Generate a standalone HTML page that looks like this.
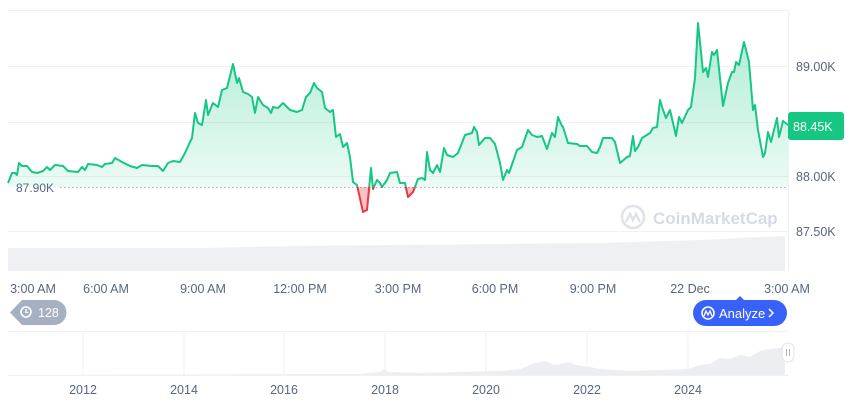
<!DOCTYPE html>
<html><head><meta charset="utf-8"><style>
body{margin:0;background:#fff;width:860px;height:401px;overflow:hidden;font-family:"Liberation Sans",sans-serif}
svg text{font-family:"Liberation Sans",sans-serif}
</style></head><body>
<svg width="860" height="401" viewBox="0 0 860 401" xmlns="http://www.w3.org/2000/svg">
<defs>
<linearGradient id="g" x1="0" y1="0" x2="0" y2="1"><stop offset="0" stop-color="#16c784" stop-opacity="0.35"/><stop offset="1" stop-color="#16c784" stop-opacity="0.04"/></linearGradient>
<clipPath id="up"><rect x="0" y="0" width="860" height="187"/></clipPath>
<clipPath id="dn"><rect x="0" y="187" width="860" height="100"/></clipPath>
</defs>
<g stroke="#eff2f5" stroke-width="1">
<line x1="8" y1="10.5" x2="788" y2="10.5"/>
<line x1="8" y1="66.5" x2="788" y2="66.5"/>
<line x1="8" y1="122.5" x2="788" y2="122.5"/>
<line x1="8" y1="176.5" x2="788" y2="176.5"/>
<line x1="8" y1="231.5" x2="788" y2="231.5"/>
<line x1="788.5" y1="10" x2="788.5" y2="271"/>
</g>
<polygon points="8,248 200,248 300,246 400,245 500,244 600,243 700,240 785,236 785,271 8,271" fill="#eef0f4"/>
<g opacity="0.35" fill="none" stroke="#a6b0c3" stroke-width="2.5"><circle cx="633" cy="217" r="11"/><path d="M626,222 l4,-8 l3,6 l3,-6 l4,8"/></g>
<text x="653" y="224" font-size="17" font-weight="bold" fill="#a6b0c3" opacity="0.45">CoinMarketCap</text>
<line x1="60" y1="187.5" x2="788" y2="187.5" stroke="#a6b0c3" stroke-width="1" stroke-dasharray="1.5,2.5"/>
<rect x="10" y="180" width="50" height="15" fill="#fff"/>
<text x="16" y="192" font-size="12" fill="#58667e">87.90K</text>
<g clip-path="url(#up)">
<polygon fill="url(#g)" points="8,187 8,183 12,173 15,173 17,175 19,163 22,166 27,166 32,172 37,173 43,171 47,167 50,170 55,165 63,166 68,171 78,172 82,167 85,170 88,164 97,165 102,167 105,164 112,163 115,158 122,162 130,166 137,168 142,165 152,166 158,166 163,171 168,163 173,161 180,162 185,153 190,142 192,138 195,113 198,123 202,125 206,100 208,115 213,103 218,107 222,90 227,88 233,64 237,83 239,78 243,92 248,94 252,97 255,113 258,97 263,105 268,108 271,113 273,107 278,108 283,103 290,110 297,112 302,110 306,97 310,93 314,83 317,88 322,92 325,108 330,112 333,110 336,137 340,134 343,147 347,143 350,157 353,182 357,185 363,212 367,210 371,168 373,189 377,180 380,183 382,187 387,180 390,173 397,172 400,183 405,183 408,197 413,192 418,179 422,178 425,180 427,152 430,170 433,173 437,165 440,172 444,148 447,155 453,157 458,153 465,135 472,133 474,127 477,132 479,145 485,138 490,138 495,144 500,163 503,180 507,170 509,173 517,150 522,147 528,130 532,135 537,137 542,136 547,149 552,133 555,137 558,117 562,126 563,127 568,143 577,144 580,146 587,146 592,152 597,153 600,147 603,138 612,138 615,142 620,163 627,157 630,156 633,136 635,151 638,147 642,138 650,133 653,128 657,127 660,100 663,110 666,118 670,110 676,136 679,117 682,123 688,110 691,107 695,78 698,23 703,72 706,68 708,77 712,52 714,55 717,50 723,106 728,83 732,72 734,72 736,62 739,65 744,42 749,62 753,110 755,105 758,130 763,157 765,153 768,132 771,142 777,118 779,137 783,121 788,125 788,187"/>
</g>
<g clip-path="url(#dn)">
<polygon fill="#ea3943" fill-opacity="0.3" points="353,187 357,185 363,212 367,210 371,187"/>
<polygon fill="#ea3943" fill-opacity="0.3" points="404,187 408,197 413,192 416,187"/>
</g>
<polyline clip-path="url(#up)" fill="none" stroke="#16c784" stroke-width="2" stroke-linejoin="round" points="8,183 12,173 15,173 17,175 19,163 22,166 27,166 32,172 37,173 43,171 47,167 50,170 55,165 63,166 68,171 78,172 82,167 85,170 88,164 97,165 102,167 105,164 112,163 115,158 122,162 130,166 137,168 142,165 152,166 158,166 163,171 168,163 173,161 180,162 185,153 190,142 192,138 195,113 198,123 202,125 206,100 208,115 213,103 218,107 222,90 227,88 233,64 237,83 239,78 243,92 248,94 252,97 255,113 258,97 263,105 268,108 271,113 273,107 278,108 283,103 290,110 297,112 302,110 306,97 310,93 314,83 317,88 322,92 325,108 330,112 333,110 336,137 340,134 343,147 347,143 350,157 353,182 357,185 363,212 367,210 371,168 373,189 377,180 380,183 382,187 387,180 390,173 397,172 400,183 405,183 408,197 413,192 418,179 422,178 425,180 427,152 430,170 433,173 437,165 440,172 444,148 447,155 453,157 458,153 465,135 472,133 474,127 477,132 479,145 485,138 490,138 495,144 500,163 503,180 507,170 509,173 517,150 522,147 528,130 532,135 537,137 542,136 547,149 552,133 555,137 558,117 562,126 563,127 568,143 577,144 580,146 587,146 592,152 597,153 600,147 603,138 612,138 615,142 620,163 627,157 630,156 633,136 635,151 638,147 642,138 650,133 653,128 657,127 660,100 663,110 666,118 670,110 676,136 679,117 682,123 688,110 691,107 695,78 698,23 703,72 706,68 708,77 712,52 714,55 717,50 723,106 728,83 732,72 734,72 736,62 739,65 744,42 749,62 753,110 755,105 758,130 763,157 765,153 768,132 771,142 777,118 779,137 783,121 788,125"/>
<polyline clip-path="url(#dn)" fill="none" stroke="#ea3943" stroke-width="2" stroke-linejoin="round" points="353,182 357,185 363,212 367,210 371,168 373,189 377,180 380,183 382,187 387,180 400,183 405,183 408,197 413,192 418,179"/>
<g font-size="12.5" fill="#58667e">
<text x="796" y="71">89.00K</text>
<text x="796" y="181">88.00K</text>
<text x="796" y="236">87.50K</text>
</g>
<rect x="788" y="112" width="56" height="28" rx="3" fill="#16c784"/>
<text x="793" y="131" font-size="12.5" fill="#fff">88.45K</text>
<g font-size="12.5" fill="#58667e" text-anchor="middle">
<text x="33" y="293">3:00 AM</text><text x="106" y="293">6:00 AM</text><text x="203" y="293">9:00 AM</text><text x="300" y="293">12:00 PM</text><text x="398" y="293">3:00 PM</text><text x="495" y="293">6:00 PM</text><text x="593" y="293">9:00 PM</text><text x="690" y="293">22 Dec</text><text x="787" y="293">3:00 AM</text>
</g>
<path d="M22,300 H54 a11,11 0 0 1 0,25 H22 L10,312.5 Z" fill="#a6b0c3"/>
<circle cx="26" cy="312" r="5" fill="none" stroke="#fff" stroke-width="1.6"/>
<path d="M26,309 v3.5 h2.5" fill="none" stroke="#fff" stroke-width="1.3"/>
<text x="38" y="317" font-size="12.5" fill="#fff">128</text>
<path d="M736,300 l4,-4 l4,4 Z" fill="#3861fb"/>
<rect x="693" y="300" width="94" height="26" rx="13" fill="#3861fb"/>
<circle cx="708" cy="313" r="6" fill="none" stroke="#fff" stroke-width="1.6"/>
<path d="M704,316 l2,-5 l2,4 l2,-4 l2,5" fill="none" stroke="#fff" stroke-width="1.3"/>
<text x="719" y="318" font-size="13" fill="#fff">Analyze</text>
<path d="M769,309 l4,4 l-4,4" fill="none" stroke="#fff" stroke-width="1.5"/>
<g stroke="#eff2f5"><line x1="8" y1="331.5" x2="788" y2="331.5"/><line x1="8" y1="375.5" x2="788" y2="375.5"/>
<line x1="83" y1="331" x2="83" y2="375"/><line x1="184" y1="331" x2="184" y2="375"/><line x1="284" y1="331" x2="284" y2="375"/><line x1="385" y1="331" x2="385" y2="375"/><line x1="486" y1="331" x2="486" y2="375"/><line x1="587" y1="331" x2="587" y2="375"/><line x1="688" y1="331" x2="688" y2="375"/></g>
<polygon fill="#eceef2" points="8,375 360,374 380,372 384,369 388,372 420,373 460,372 500,371 520,369 535,363 545,361 555,365 570,362 575,365 590,367 600,369 630,371 660,370 688,369 700,365 710,364 720,358 730,359 740,355 750,357 760,351 770,349 780,348 785,347 785,375"/>
<rect x="782" y="343" width="12" height="19" rx="6" fill="#fff" stroke="#dfe3ea"/>
<g stroke="#a6b0c3"><line x1="786.5" y1="349" x2="786.5" y2="356"/><line x1="789.5" y1="349" x2="789.5" y2="356"/></g>
<g font-size="12.5" fill="#58667e" text-anchor="middle">
<text x="83" y="394">2012</text><text x="184" y="394">2014</text><text x="284" y="394">2016</text><text x="385" y="394">2018</text><text x="486" y="394">2020</text><text x="587" y="394">2022</text><text x="688" y="394">2024</text>
</g>
</svg>
</body></html>
